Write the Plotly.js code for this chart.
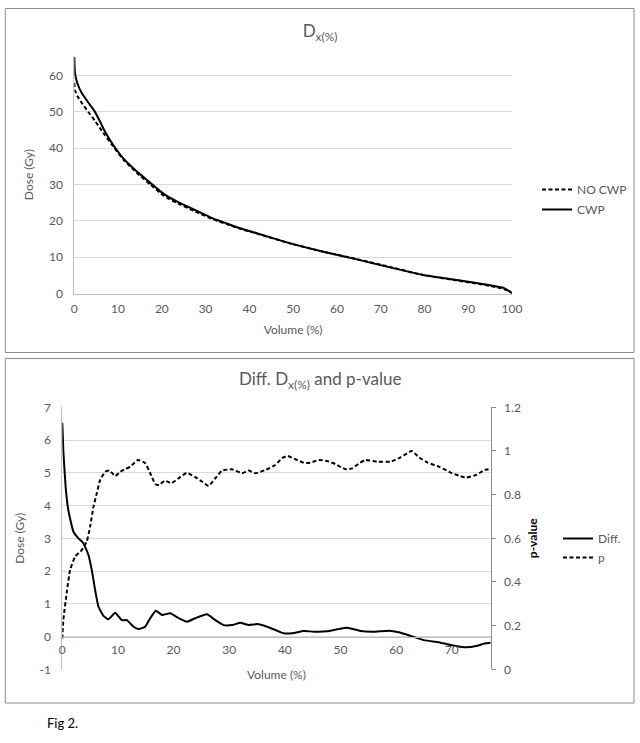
<!DOCTYPE html>
<html>
<head>
<meta charset="utf-8">
<script src="https://cdn.plot.ly/plotly-3.0.1.min.js"></script>
<style>
  html, body { margin: 0; padding: 0; background: #fff; }
  #chart { width: 640px; height: 743px; }
</style>
</head>
<body>
<div id="chart"></div>
<script>
// Fig 2: cumulative dose curves (top) and dose difference with p-value (bottom).
// Values.

// --- top panel: D x(%) ---
const volTop = [0, 0.15, 0.7, 1.7, 3.2, 4.7, 5.9, 7.0, 8.9, 11.2, 14.3, 17.3, 19.6, 21.5, 23.4,
  27.2, 31.8, 34.8, 38.0, 41.7, 49.3, 56.9, 64.5, 72.1, 79.7, 87.4, 95.0, 98.0, 99.5, 100];
const doseCwp = [65.1, 60.7, 57.9, 55.2, 52.6, 50.1, 47.3, 44.6, 40.9, 37.2, 33.6, 30.6, 28.2, 26.6, 25.4,
  23.2, 20.6, 19.3, 17.9, 16.6, 13.8, 11.5, 9.4, 7.2, 5.1, 3.7, 2.3, 1.6, 0.5, 0];
const doseNoCwp = [58.0, 56.0, 54.4, 52.5, 50.0, 47.6, 45.5, 43.6, 40.5, 36.9, 33.2, 30.1, 27.7, 26.1, 25.0,
  22.8, 20.4, 19.1, 17.8, 16.5, 13.8, 11.5, 9.5, 7.3, 5.1, 3.6, 2.1, 1.3, 0.6, 0];

// --- bottom panel: difference (left axis) and p-value (right axis) ---
const volDiff = [0, 0.18, 0.6, 1.08, 2.0, 2.9, 3.8, 4.7, 5.3, 5.9, 6.5, 7.4, 8.3, 9.5, 10.7, 11.6,
  12.8, 13.7, 14.9, 15.8, 16.8, 17.9, 19.4, 20.9, 22.4, 23.9, 26.0, 27.5, 29.0, 30.5, 32.0, 33.5,
  35.0, 36.8, 38.3, 39.8, 41.3, 43.4, 45.2, 47.6, 49.4, 51.2, 53.6, 56.0, 58.7, 60.5, 62.6, 65.0,
  68.0, 70.5, 72.6, 74.4, 75.9, 77.0];
const diffDose = [6.53, 5.69, 4.57, 3.86, 3.2, 3.0, 2.85, 2.49, 2.03, 1.42, 0.91, 0.63, 0.53, 0.73, 0.50, 0.50,
  0.30, 0.23, 0.30, 0.56, 0.79, 0.66, 0.71, 0.56, 0.45, 0.56, 0.68, 0.50, 0.35, 0.35, 0.42, 0.35,
  0.38, 0.30, 0.20, 0.10, 0.10, 0.17, 0.15, 0.16, 0.22, 0.27, 0.17, 0.15, 0.18, 0.13, 0.02, -0.11,
  -0.19, -0.28, -0.33, -0.29, -0.21, -0.19];
const volP = [0, 0.18, 0.79, 1.4, 2.3, 3.5, 4.4, 5.0, 5.6, 6.2, 6.8, 7.7, 8.5, 9.5, 10.4, 11.3, 12.2,
  13.6, 14.9, 15.8, 16.7, 17.4, 18.4, 19.6, 20.9, 22.4, 23.9, 25.1, 26.3, 27.5, 28.7, 30.5, 32.3,
  33.5, 34.7, 36.5, 38.3, 39.5, 40.5, 41.9, 43.4, 44.6, 46.1, 47.6, 49.1, 50.9, 52.1, 53.5, 54.5,
  56.6, 59.0, 60.8, 62.8, 64.1, 65.7, 67.7, 69.9, 71.4, 72.6, 74.4, 75.9, 77.0];
const pValue = [0.14, 0.226, 0.35, 0.455, 0.516, 0.546, 0.585, 0.653, 0.745, 0.806, 0.867, 0.905, 0.91, 0.885, 0.905, 0.917, 0.928,
  0.959, 0.944, 0.898, 0.849, 0.844, 0.864, 0.852, 0.875, 0.90, 0.88, 0.86, 0.84, 0.875, 0.91, 0.916, 0.898,
  0.91, 0.898, 0.913, 0.936, 0.967, 0.977, 0.962, 0.946, 0.946, 0.959, 0.954, 0.94, 0.916, 0.92, 0.946, 0.959,
  0.951, 0.951, 0.971, 1.0, 0.971, 0.946, 0.928, 0.90, 0.886, 0.878, 0.89, 0.913, 0.918];

// left-axis tick labels of the bottom panel (plain hyphen, as in the original)
const diffTickVals = [-1, 0, 1, 2, 3, 4, 5, 6, 7];
const diffTickText = ["-1", "0", "1", "2", "3", "4", "5", "6", "7"];

const W = 640, H = 743;
const FONT = "Lato, 'Open Sans', sans-serif";
const GREY_TXT = "#595959";
const GRID = "#d9d9d9";
const AXLINE = "#bfbfbf";
const DASH = "4px,2.5px";

// pixel -> paper helpers (margins are zero so paper == whole figure)
const px = (x) => x / W;
const py = (y) => 1 - y / H;

const tick = { family: FONT, size: 12, color: GREY_TXT };
const axTitle = (text, standoff) => ({ text, font: { family: FONT, size: 12, color: GREY_TXT }, standoff });

const traces = [
  {
    x: volTop, y: doseNoCwp, name: "NO CWP", type: "scatter", mode: "lines",
    line: { color: "#000", width: 2, dash: DASH, shape: "spline", smoothing: 0.3 }, xaxis: "x", yaxis: "y",
    legend: "legend", legendgroup: "a",
  },
  {
    x: volTop, y: doseCwp, name: "CWP", type: "scatter", mode: "lines",
    line: { color: "#000", width: 2, shape: "spline", smoothing: 0.3 }, xaxis: "x", yaxis: "y",
    legend: "legend", legendgroup: "b",
  },
  {
    x: volDiff, y: diffDose, name: "Diff.", type: "scatter", mode: "lines",
    line: { color: "#000", width: 2, shape: "spline", smoothing: 0.4 }, xaxis: "x2", yaxis: "y2",
    legend: "legend2", legendgroup: "c",
  },
  {
    x: volP, y: pValue, name: "p", type: "scatter", mode: "lines",
    line: { color: "#000", width: 2, dash: DASH, shape: "spline", smoothing: 0.4 }, xaxis: "x2", yaxis: "y3",
    legend: "legend2", legendgroup: "d",
  },
];

const layout = {
  width: W,
  height: H,
  margin: { l: 0, r: 0, t: 0, b: 0 },
  paper_bgcolor: "#fff",
  plot_bgcolor: "rgba(0,0,0,0)",
  font: { family: FONT, color: GREY_TXT },
  title: {
    text: "D<sub>x(%)</sub>",
    font: { family: FONT, size: 17, color: GREY_TXT },
    x: px(320), xanchor: "center", xref: "paper",
    y: py(31), yanchor: "middle", yref: "paper",
  },
  xaxis: {
    domain: [px(74.3), px(512)], range: [0, 100], dtick: 10, tick0: 0,
    showgrid: false, zeroline: false, showline: true, linecolor: AXLINE,
    ticks: "", tickfont: tick, ticklabelstandoff: 4,
    title: axTitle("Volume (%)", 10), anchor: "y", fixedrange: true,
  },
  yaxis: {
    domain: [py(293.5), py(55.7)], range: [0, 65.5], dtick: 10, tick0: 0,
    showgrid: true, gridcolor: GRID, zeroline: false, showline: true, linecolor: AXLINE,
    ticks: "", tickfont: tick, ticklabelstandoff: 8,
    title: axTitle("Dose (Gy)", 12), anchor: "x", fixedrange: true,
  },
  xaxis2: {
    domain: [px(62.3), px(490.7)], range: [0, 77], dtick: 10, tick0: 0,
    showgrid: false, zeroline: false, showline: true, linecolor: AXLINE,
    ticks: "", tickfont: tick, ticklabelstandoff: 2,
    anchor: "free", position: py(636.5),
    title: axTitle("Volume (%)", 14), fixedrange: true,
  },
  yaxis2: {
    domain: [py(669.3), py(407.3)], range: [-1, 7],
    tickmode: "array", tickvals: diffTickVals, ticktext: diffTickText,
    showgrid: true, gridcolor: GRID, zeroline: false, showline: true, linecolor: AXLINE,
    ticks: "", tickfont: tick, ticklabelstandoff: 8,
    title: axTitle("Dose (Gy)", 12), anchor: "x2", fixedrange: true,
  },
  yaxis3: {
    domain: [py(669.3), py(407.3)], range: [0, 1.2], dtick: 0.2, tick0: 0,
    overlaying: "y2", side: "right", anchor: "x2",
    showgrid: false, zeroline: false, showline: true, linecolor: "#8c8c8c",
    ticks: "outside", ticklen: 4, tickcolor: "#8c8c8c", tickfont: tick, ticklabelstandoff: 6,
    title: { text: "p-value", font: { family: FONT, size: 12, color: "#000", weight: "bold" }, standoff: 8 },
    fixedrange: true,
  },
  legend: {
    x: px(537), xanchor: "left", y: py(175), yanchor: "top",
    font: { family: FONT, size: 12, color: GREY_TXT },
    traceorder: "grouped", tracegroupgap: 1, bgcolor: "rgba(0,0,0,0)",
  },
  legend2: {
    x: px(558), xanchor: "left", y: py(524), yanchor: "top",
    font: { family: FONT, size: 12, color: GREY_TXT },
    traceorder: "grouped", tracegroupgap: 0, bgcolor: "rgba(0,0,0,0)",
  },
  shapes: [
    { type: "rect", xref: "paper", yref: "paper", x0: px(5.3), x1: px(634), y0: py(352.5), y1: py(8.5),
      line: { color: "#8c8c8c", width: 1 }, fillcolor: "rgba(0,0,0,0)", layer: "below" },
    { type: "rect", xref: "paper", yref: "paper", x0: px(5.3), x1: px(634), y0: py(703), y1: py(358.5),
      line: { color: "#8c8c8c", width: 1 }, fillcolor: "rgba(0,0,0,0)", layer: "below" },
  ],
  annotations: [
    { text: "Diff. D<sub>x(%)</sub> and p-value", xref: "paper", yref: "paper",
      x: px(320), y: py(380), xanchor: "center", yanchor: "middle", showarrow: false,
      font: { family: FONT, size: 17, color: GREY_TXT } },
    { text: "Fig 2.", xref: "paper", yref: "paper",
      x: px(45), y: py(723), xanchor: "left", yanchor: "middle", showarrow: false,
      font: { family: FONT, size: 13, color: "#000" } },
  ],
  showlegend: true,
};

Plotly.newPlot("chart", traces, layout, { displayModeBar: false, staticPlot: true });
</script>
</body>
</html>
